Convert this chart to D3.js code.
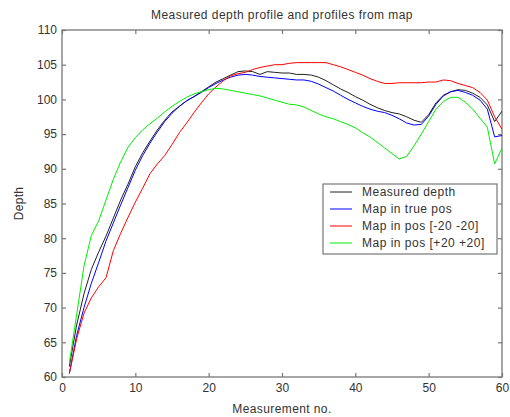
<!DOCTYPE html>
<html>
<head>
<meta charset="utf-8">
<script src="https://cdn.jsdelivr.net/npm/d3@7"></script>
<style>
  html, body { margin: 0; padding: 0; background: #fff; }
  svg text { font-family: "Liberation Sans", Arial, sans-serif; fill: #333; }
</style>
</head>
<body>
<svg id="chart" width="510" height="417"></svg>
<script>
const measurementNo = [1,2,3,4,5,6,7,8,9,10,11,12,13,14,15,16,17,18,19,20,21,22,23,24,25,26,27,28,29,30,31,32,33,34,35,36,37,38,39,40,41,42,43,44,45,46,47,48,49,50,51,52,53,54,55,56,57,58,59,60];

const measuredDepth = [61.5,67.5,72.0,75.5,78.0,80.3,82.9,85.5,87.8,90.3,92.3,94.0,95.6,97.0,98.2,99.0,99.8,100.4,101.1,101.8,102.5,103.0,103.5,104.0,104.1,104.0,103.6,104.0,103.9,103.8,103.8,103.6,103.6,103.5,103.2,102.7,102.1,101.5,101.0,100.4,99.9,99.3,98.8,98.4,98.1,97.9,97.5,97.0,96.7,97.8,99.5,100.6,101.1,101.4,101.3,100.9,100.3,99.2,96.8,98.3];

const mapTruePos = [60.5,66.0,70.0,73.5,76.5,79.6,82.2,84.8,87.3,89.8,91.9,93.7,95.3,96.8,98.0,99.0,99.8,100.4,101.0,101.7,102.3,102.8,103.2,103.5,103.6,103.5,103.3,103.2,103.1,103.0,102.9,102.8,102.8,102.6,102.2,101.7,101.2,100.6,100.0,99.5,99.0,98.6,98.3,98.1,97.7,97.2,96.6,96.3,96.4,97.6,99.3,100.5,101.1,101.3,101.0,100.6,99.9,98.6,94.6,94.8];

const mapPosMinus20 = [60.5,65.5,69.2,71.4,73.0,74.3,78.2,80.7,83.0,85.2,87.2,89.3,90.7,91.9,93.5,95.2,96.6,98.1,99.5,100.8,101.8,102.7,103.4,103.7,103.9,104.3,104.6,104.8,105.0,105.0,105.2,105.3,105.3,105.3,105.3,105.3,105.0,104.7,104.3,103.9,103.5,103.0,102.6,102.3,102.3,102.4,102.4,102.4,102.4,102.5,102.5,102.8,102.7,102.3,102.0,101.7,101.0,99.9,97.5,95.7];

const mapPosPlus20 = [62.0,69.0,76.0,80.4,82.5,85.5,88.5,91.0,93.1,94.5,95.6,96.5,97.3,98.2,99.0,99.7,100.3,100.8,101.1,101.4,101.6,101.5,101.3,101.1,100.9,100.7,100.5,100.2,99.9,99.6,99.3,99.2,98.9,98.4,97.9,97.5,97.2,96.8,96.4,95.9,95.2,94.6,93.8,93.0,92.2,91.4,91.8,93.3,95.0,96.8,98.6,99.7,100.3,100.3,99.6,98.6,97.3,96.0,90.7,93.0];

const seriesNames = ["Measured depth", "Map in true pos", "Map in pos [-20 -20]", "Map in pos [+20 +20]"];
const seriesColors = ["#222222", "#0000ff", "#ff0000", "#00ee00"];
const seriesValues = [measuredDepth, mapTruePos, mapPosMinus20, mapPosPlus20];

const xTicks = [0,10,20,30,40,50,60];
const yTicks = [60,65,70,75,80,85,90,95,100,105,110];

const titleText = "Measured depth profile and profiles from map";
const xLabel = "Measurement no.";
const yLabel = "Depth";

(function () {
const svg = d3.select("#chart");
const pl = 62, pr = 502, pt = 30, pb = 377;
const x = d3.scaleLinear().domain([0, 60]).range([pl, pr]);
const y = d3.scaleLinear().domain([60, 110]).range([pb, pt]);

svg.append("rect")
  .attr("x", pl).attr("y", pt)
  .attr("width", pr - pl).attr("height", pb - pt)
  .attr("fill", "#fff").attr("stroke", "#777").attr("stroke-width", 1.3);

function styleAxis(g) {
  g.select(".domain").remove();
  g.selectAll(".tick line").attr("stroke", "#777").attr("stroke-width", 1.2);
  g.selectAll(".tick text").attr("fill", "#333").style("font-size", "12px");
}

svg.append("g").attr("transform", `translate(0,${pb})`)
  .call(d3.axisBottom(x).tickValues(xTicks).tickSizeInner(-4).tickSizeOuter(0).tickPadding(6))
  .call(styleAxis);
svg.append("g").attr("transform", `translate(0,${pt})`)
  .call(d3.axisTop(x).tickValues(xTicks).tickSizeInner(-4).tickSizeOuter(0).tickFormat(""))
  .call(styleAxis);
svg.append("g").attr("transform", `translate(${pl},0)`)
  .call(d3.axisLeft(y).tickValues(yTicks).tickSizeInner(-4).tickSizeOuter(0).tickPadding(5))
  .call(styleAxis);
svg.append("g").attr("transform", `translate(${pr},0)`)
  .call(d3.axisRight(y).tickValues(yTicks).tickSizeInner(-4).tickSizeOuter(0).tickFormat(""))
  .call(styleAxis);

const line = d3.line().x((d, i) => x(measurementNo[i])).y(d => y(d));
svg.append("clipPath").attr("id", "clip").append("rect")
  .attr("x", pl).attr("y", pt).attr("width", pr - pl).attr("height", pb - pt);
seriesValues.forEach((vals, k) => {
  svg.append("path").datum(vals)
    .attr("d", line)
    .attr("fill", "none")
    .attr("stroke", seriesColors[k])
    .attr("stroke-width", 1)
    .attr("clip-path", "url(#clip)");
});

svg.append("text").attr("x", (pl + pr) / 2).attr("y", 19)
  .attr("text-anchor", "middle").style("font-size", "12px").style("letter-spacing", "0.45px").text(titleText);
svg.append("text").attr("x", (pl + pr) / 2).attr("y", 413)
  .attr("text-anchor", "middle").style("font-size", "12px").style("letter-spacing", "0.4px").text(xLabel);
svg.append("text").attr("transform", `translate(23,${(pt + pb) / 2}) rotate(-90)`)
  .attr("text-anchor", "middle").style("font-size", "12px").style("letter-spacing", "0.3px").text(yLabel);

const lg = svg.append("g");
lg.append("rect").attr("x", 323).attr("y", 184).attr("width", 174).attr("height", 70)
  .attr("fill", "#fff").attr("stroke", "#777").attr("stroke-width", 1.2);
seriesNames.forEach((name, k) => {
  const yy = 192 + k * 17;
  lg.append("line").attr("x1", 330).attr("x2", 352).attr("y1", yy).attr("y2", yy)
    .attr("stroke", seriesColors[k]).attr("stroke-width", 1);
  lg.append("text").attr("x", 362).attr("y", yy + 4).style("font-size", "12px")
    .style("letter-spacing", "0.5px").text(name);
});
})();
</script>
</body>
</html>
